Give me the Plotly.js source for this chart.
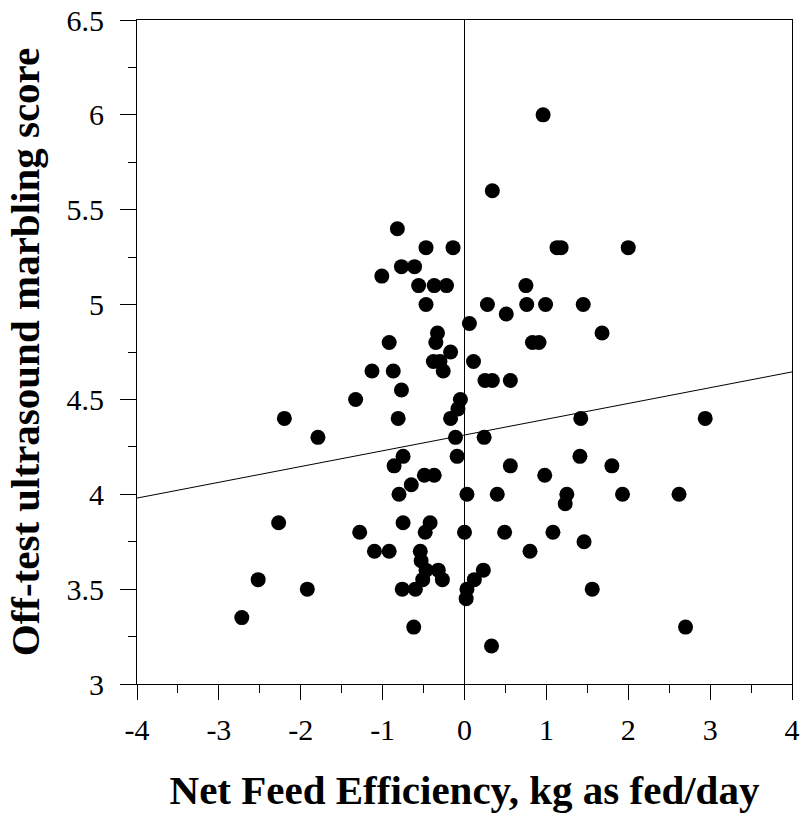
<!DOCTYPE html>
<html>
<head>
<meta charset="utf-8">
<script src="https://cdn.plot.ly/plotly-3.0.1.min.js"></script>
<style>html,body{margin:0;padding:0;background:#fff;}#chart{width:803px;height:814px;}</style>
</head>
<body>
<div id="chart"></div>
<script>
const nfe = [0.96,0.34,-0.82,-0.47,-0.14,1.13,1.18,2.0,-0.77,-0.61,-1.01,-0.56,-0.37,-0.22,0.75,-0.47,0.28,0.76,0.99,1.45,0.51,0.06,-0.33,1.68,-0.35,-0.92,0.83,0.91,-0.17,-0.38,-0.3,0.11,-1.13,-0.87,-0.26,0.25,0.34,0.56,-0.77,-1.33,-0.05,-0.08,-2.2,-0.81,-0.17,1.42,2.94,-1.79,-0.11,0.24,-0.75,-0.09,1.41,-0.86,0.56,1.80,-0.49,-0.37,0.98,-0.65,-0.80,0.03,0.40,1.25,1.93,2.62,1.23,-2.27,-0.75,-0.42,-1.28,-0.48,0.0,0.49,1.08,1.46,-1.10,-0.92,-0.54,0.80,-0.53,-0.47,-0.32,0.23,-2.52,-0.51,-0.27,0.12,-1.92,-0.76,-0.60,0.03,1.56,0.02,-2.72,-0.62,2.70,0.33];
const marbling = [6.0,5.6,5.4,5.3,5.3,5.3,5.3,5.3,5.2,5.2,5.15,5.1,5.1,5.1,5.1,5.0,5.0,5.0,5.0,5.0,4.95,4.9,4.85,4.85,4.8,4.8,4.8,4.8,4.75,4.7,4.7,4.7,4.65,4.65,4.65,4.6,4.6,4.6,4.55,4.5,4.5,4.45,4.4,4.4,4.4,4.4,4.4,4.3,4.3,4.3,4.2,4.2,4.2,4.15,4.15,4.15,4.1,4.1,4.1,4.05,4.0,4.0,4.0,4.0,4.0,4.0,3.95,3.85,3.85,3.85,3.8,3.8,3.8,3.8,3.8,3.75,3.7,3.7,3.7,3.7,3.65,3.6,3.6,3.6,3.55,3.55,3.55,3.55,3.5,3.5,3.5,3.5,3.5,3.45,3.35,3.3,3.3,3.2];
const fitX = [-4, 4];
const fitY = [3.98, 4.645];
const xTickVals = [-4,-3,-2,-1,0,1,2,3,4];
const xTickText = ['-4','-3','-2','-1','0','1','2','3','4'];
const yTickVals = [3,3.5,4,4.5,5,5.5,6,6.5];
const yTickText = ['3','3.5','4','4.5','5','5.5','6','6.5'];

const traces = [
  {x: fitX, y: fitY, mode: 'lines', type: 'scatter', line: {color: '#000', width: 1}, hoverinfo: 'skip'},
  {x: nfe, y: marbling, mode: 'markers', type: 'scatter', marker: {color: '#000', size: 15}}
];
const fam = '"Liberation Serif", "Times New Roman", serif';
const layout = {
  width: 803, height: 814,
  margin: {l: 137, r: 11, t: 20, b: 130},
  paper_bgcolor: '#fff', plot_bgcolor: '#fff',
  showlegend: false,
  font: {family: fam, size: 30, color: '#000'},
  xaxis: {
    range: [-4, 4], tickvals: xTickVals, ticktext: xTickText, ticks: 'outside', ticklen: 15, tickcolor: '#000', tickwidth: 1,
    ticklabelstandoff: 4,
    minor: {dtick: 0.5, ticks: 'outside', ticklen: 8, tickcolor: '#000', tickwidth: 1, showgrid: false},
    showline: true, mirror: true, linecolor: '#000', linewidth: 1, showgrid: false,
    zeroline: true, zerolinecolor: '#000', zerolinewidth: 1,
    tickfont: {family: fam, size: 30, color: '#000'},
    title: {text: '<b>Net Feed Efficiency, kg as fed/day</b>', font: {family: fam, size: 41, color: '#000'}, standoff: 30}
  },
  yaxis: {
    range: [3, 6.5], tickvals: yTickVals, ticktext: yTickText, ticks: 'outside', ticklen: 16, tickcolor: '#000', tickwidth: 1,
    ticklabelstandoff: 10,
    minor: {dtick: 0.25, ticks: 'outside', ticklen: 8, tickcolor: '#000', tickwidth: 1, showgrid: false},
    showline: true, mirror: true, linecolor: '#000', linewidth: 1, showgrid: false, zeroline: false,
    tickfont: {family: fam, size: 30, color: '#000'},
    title: {text: '<b>Off-test ultrasound marbling score</b>', font: {family: fam, size: 41, color: '#000'}, standoff: 14}
  }
};
Plotly.newPlot('chart', traces, layout, {displayModeBar: false, staticPlot: true});
</script>
</body>
</html>
